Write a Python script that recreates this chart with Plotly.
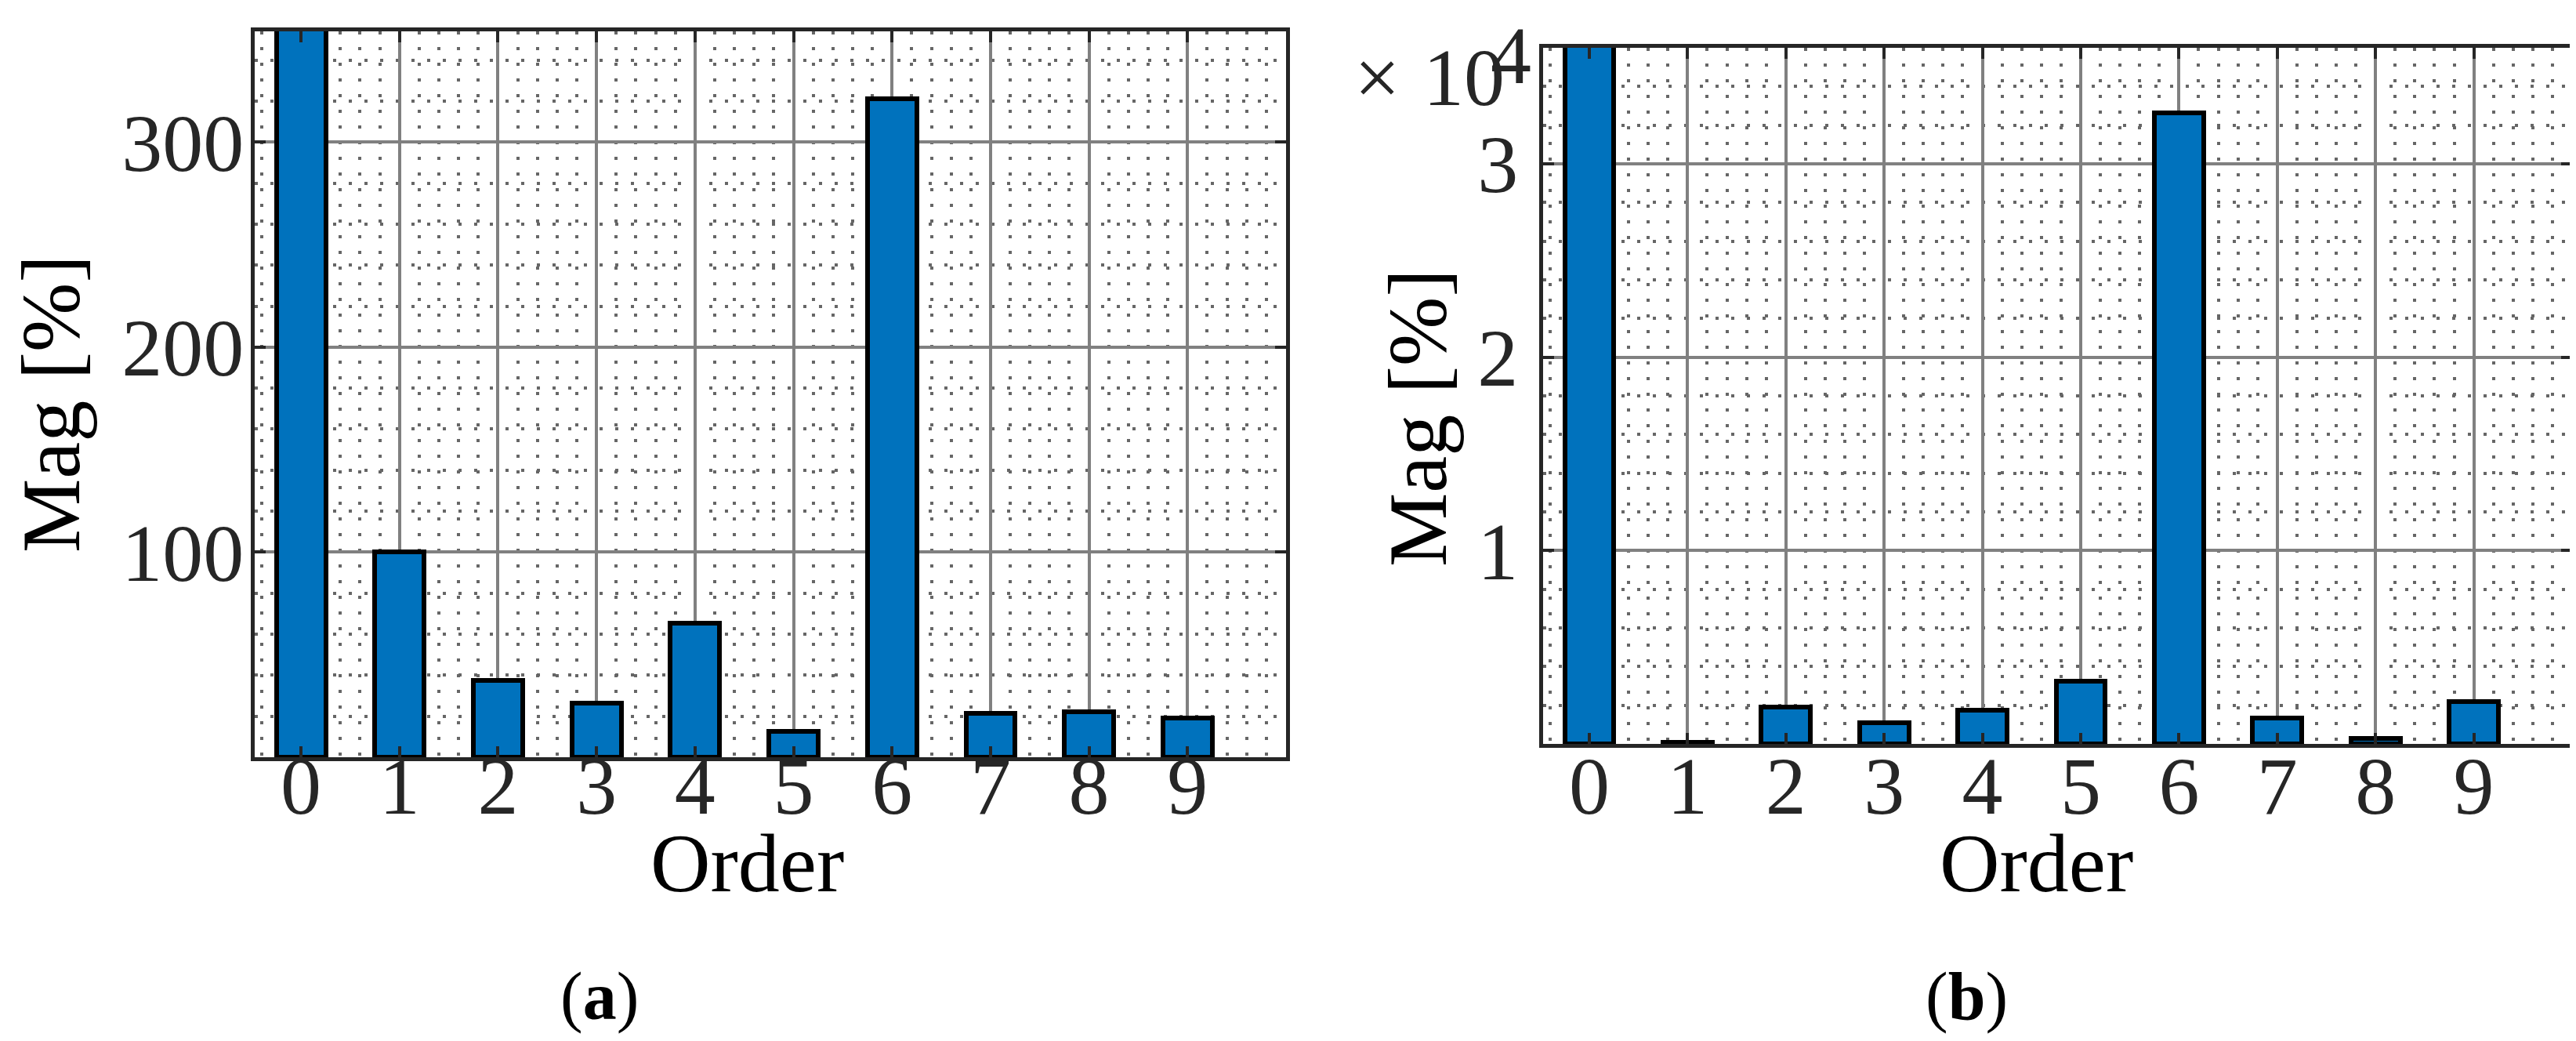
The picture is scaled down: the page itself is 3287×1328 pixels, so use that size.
import plotly.graph_objects as go

# ---------------- data ----------------
orders = [0, 1, 2, 3, 4, 5, 6, 7, 8, 9]
mag_a = [380, 100, 37.5, 26.5, 65.5, 12.8, 321, 21.6, 22.3, 19.0]          # panel (a), %
mag_b = [40000, 100, 1900, 1080, 1760, 3250, 32650, 1340, 300, 2170]       # panel (b), %
x_tick_vals = [0, 1, 2, 3, 4, 5, 6, 7, 8, 9]
x_tick_text = ["0", "1", "2", "3", "4", "5", "6", "7", "8", "9"]
ya_tick_vals = [100, 200, 300]
ya_tick_text = ["100", "200", "300"]
yb_tick_vals = [10000, 20000, 30000]
yb_tick_text = ["1", "2", "3"]

W, H = 3287, 1328
FONT = "Liberation Serif, Times New Roman, serif"
BLUE = "#0072BD"
AX = "#262626"

def px(x):
    return x / W

def py(y):
    return 1 - y / H

fig = go.Figure()
fig.add_trace(go.Bar(x=orders, y=mag_a, width=0.5, xaxis="x", yaxis="y",
                     marker=dict(color=BLUE, line=dict(color="black", width=6)),
                     showlegend=False))
fig.add_trace(go.Bar(x=orders, y=mag_b, width=0.5, xaxis="x2", yaxis="y2",
                     marker=dict(color=BLUE, line=dict(color="black", width=6)),
                     showlegend=False))

minor_dash = "4px,16px"
MAJ_GRID = "#808080"
MIN_GRID = "#666666"

def xaxis_cfg(domain, anchor, standoff):
    return dict(
        domain=domain, anchor=anchor, range=[-0.47, 10.0],
        tickmode="array", tickvals=x_tick_vals, ticktext=x_tick_text,
        ticks="inside", ticklen=14, tickwidth=4, tickcolor=AX,
        showline=True, linecolor=AX, linewidth=5, mirror="ticks",
        showgrid=True, gridcolor=MAJ_GRID, gridwidth=4,
        zeroline=False, ticklabelstandoff=standoff,
        tickfont=dict(family=FONT, size=104, color=AX),
        minor=dict(tickmode="linear", tick0=0, dtick=0.2, showgrid=True,
                   gridcolor=MIN_GRID, gridwidth=4, griddash=minor_dash, ticks=""),
    )

def yaxis_cfg(domain, anchor, rng, tv, tt, minor_dt, standoff):
    return dict(
        domain=domain, anchor=anchor, range=rng,
        tickmode="array", tickvals=tv, ticktext=tt,
        ticks="inside", ticklen=14, tickwidth=4, tickcolor=AX,
        showline=True, linecolor=AX, linewidth=5, mirror="ticks",
        showgrid=True, gridcolor=MAJ_GRID, gridwidth=4,
        zeroline=False, ticklabelstandoff=standoff,
        tickfont=dict(family=FONT, size=104, color=AX),
        minor=dict(tickmode="linear", tick0=0, dtick=minor_dt, showgrid=True,
                   gridcolor=MIN_GRID, gridwidth=4, griddash=minor_dash, ticks=""),
    )

layout = dict(
    width=W, height=H,
    margin=dict(l=0, r=0, t=0, b=0),
    paper_bgcolor="white", plot_bgcolor="white",
    bargap=0,
    xaxis=xaxis_cfg([px(317), px(1633)], "y", -58),
    yaxis=yaxis_cfg([py(958), py(32)], "x", [0, 354], ya_tick_vals, ya_tick_text, 20, -12),
    xaxis2=xaxis_cfg([px(1961), px(3274)], "y2", -41),
    yaxis2=yaxis_cfg([py(941), py(53)], "x2", [0, 36000], yb_tick_vals, yb_tick_text, 2000, 6),
)
fig.update_layout(**layout)

ann = []
def text(x, y, s, size, xanchor="center", yanchor="middle", angle=0, color="black", yshift=0):
    ann.append(dict(x=px(x), y=py(y), xref="paper", yref="paper", text=s,
                    showarrow=False, xanchor=xanchor, yanchor=yanchor, textangle=angle,
                    yshift=yshift,
                    font=dict(family=FONT, size=size, color=color)))

text(945, 1093, "Order", 106)
text(2590, 1093, "Order", 106)
text(58, 507, "Mag [%]", 106, angle=-90)
text(1802, 525, "Mag [%]", 106, angle=-90)
text(757, 1263, "(<b>a</b>)", 86)
text(2501, 1263, "(<b>b</b>)", 86)
text(1749, 91, "×", 104, color=AX)
text(1914, 91, "10", 104, xanchor="right", color=AX)
text(1892, 62, "4", 104, xanchor="left", color=AX)
fig.update_layout(annotations=ann)

fig.write_html("out.html")
